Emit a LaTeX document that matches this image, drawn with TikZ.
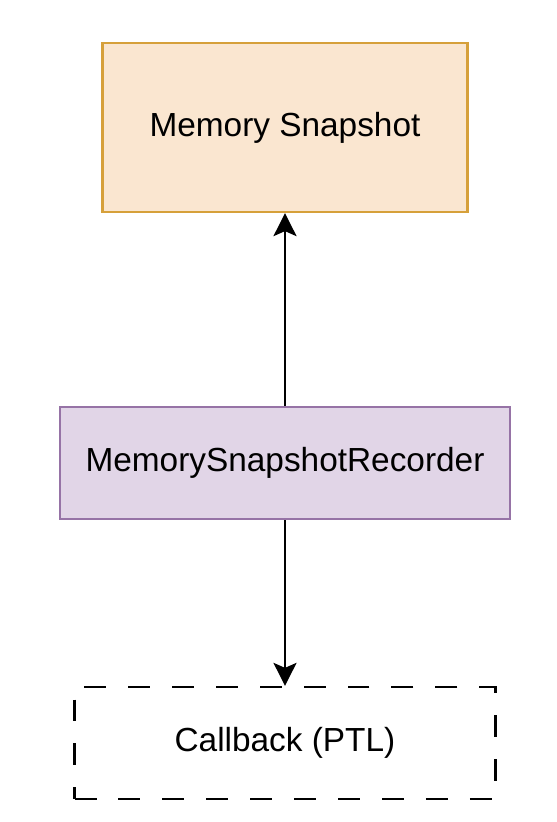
\documentclass[tikz,border=0pt]{standalone}
\usepackage{fontspec}
\setmainfont{Liberation Sans}
\usepackage{xcolor}
\usetikzlibrary{arrows.meta}

\definecolor{snapfill}{HTML}{FAE6D0}
\definecolor{snapdraw}{HTML}{D6A03A}
\definecolor{recfill}{HTML}{E1D5E7}
\definecolor{recdraw}{HTML}{9673A6}

\begin{document}
\begin{tikzpicture}[x=0.02cm,y=-0.02cm,>={Stealth[length=0.46cm,width=0.46cm,inset=0.1cm]},
			box/.style={rectangle,line width=1.3pt,inner sep=0pt,font=\fontsize{19}{22}\selectfont},
			snapbox/.style={box,fill=snapfill,draw=snapdraw,minimum width=7.3cm,minimum height=3.38cm},
			recbox/.style={box,fill=recfill,draw=recdraw,minimum width=9cm,minimum height=2.24cm},
			cbbox/.style={box,fill=white,draw=black,dash pattern=on 12.5pt off 12.5pt,minimum width=8.42cm,minimum height=2.24cm},
			link/.style={->,line width=1.3pt},
			]
			% Rahmen
			\useasboundingbox (0,0) rectangle (556,822);
			
			% Kasten
			\node[snapbox] (snap) at (285,127.5) {Memory Snapshot};
			\node[recbox] (rec) at (285,463) {MemorySnapshotRecorder};
			\node[cbbox] (cb) at (285,743) {\raisebox{-2pt}{Callback (PTL)}};
			
			% Pfeile
			\draw[link] (rec.north) -- (snap.south);
			\draw[link] (rec.south) -- (cb.north);
		\end{tikzpicture}
\end{document}
